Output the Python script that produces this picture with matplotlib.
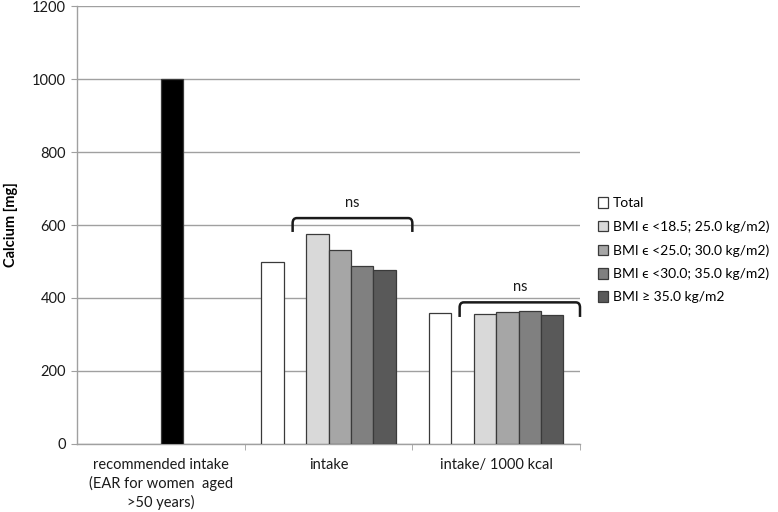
import numpy as np
import matplotlib.pyplot as plt
from matplotlib.path import Path
from matplotlib.patches import PathPatch

plt.rcParams['font.family'] = ['Lato', 'DejaVu Sans']

categories = ['recommended intake\n(EAR for women  aged\n>50 years)', 'intake', 'intake/ 1000 kcal']
ear = [1000, np.nan, np.nan]
series_names = ['Total',
                'BMI ϵ <18.5; 25.0 kg/m2)',
                'BMI ϵ <25.0; 30.0 kg/m2)',
                'BMI ϵ <30.0; 35.0 kg/m2)',
                'BMI ≥ 35.0 kg/m2']
total = [np.nan, 500, 360]
bmi_1 = [np.nan, 575, 357]
bmi_2 = [np.nan, 531, 361]
bmi_3 = [np.nan, 488, 363]
bmi_4 = [np.nan, 476, 352]
series_values = [total, bmi_1, bmi_2, bmi_3, bmi_4]
colors = ['#ffffff', '#d9d9d9', '#a6a6a6', '#808080', '#595959']
slots = [0, 2, 3, 4, 5]

fig = plt.figure(figsize=(7.78, 5.12), dpi=100)
ax = fig.add_axes([0.099, 0.133, 0.6465, 0.855])

x = np.arange(len(categories))
w = 1 / 7.5
edge = '#3a3a3a'

# black EAR bar (slot 3 of the first group)
ax.bar(x + (3 - 2.5) * w, ear, w, color='black', edgecolor=edge, linewidth=0.9, zorder=3)

handles = []
for vals, c, s, name in zip(series_values, colors, slots, series_names):
    b = ax.bar(x + (s - 2.5) * w, vals, w, color=c, edgecolor=edge, linewidth=0.9,
               label=name, zorder=3)
    handles.append(b)

ax.set_xlim(-0.5, 2.5)
ax.set_ylim(0, 1200)
ax.set_yticks(range(0, 1201, 200))
ax.set_xticks(x)
ax.set_xticklabels(categories, fontsize=10.5, color='#1a1a1a', linespacing=1.35)
ax.tick_params(axis='x', length=0, pad=10)
ax.set_xticks([0.5, 1.5, 2.5], minor=True)
ax.tick_params(axis='x', which='minor', length=4, color='#a0a0a0', direction='out')
ax.tick_params(axis='y', length=4, color='#a0a0a0', labelsize=10.5, labelcolor='#1a1a1a', pad=4)
ax.yaxis.grid(True, color='#a0a0a0', linewidth=1, zorder=0)
ax.set_axisbelow(True)
for sp in ['top', 'right']:
    ax.spines[sp].set_visible(False)
for sp in ['left', 'bottom']:
    ax.spines[sp].set_color('#a0a0a0')
    ax.spines[sp].set_linewidth(1)

ax.set_ylabel('Calcium [mg]', fontsize=10.5, fontweight='bold', labelpad=10)


def bracket(x0, x1, ytop, ybot, rx=0.025, ry=14):
    verts = [(x0, ybot), (x0, ytop - ry), (x0, ytop), (x0 + rx, ytop),
             (x1 - rx, ytop), (x1, ytop), (x1, ytop - ry), (x1, ybot)]
    codes = [Path.MOVETO, Path.LINETO, Path.CURVE3, Path.CURVE3,
             Path.LINETO, Path.CURVE3, Path.CURVE3, Path.LINETO]
    ax.add_patch(PathPatch(Path(verts, codes), fill=False, edgecolor='#1a1a1a',
                           linewidth=1.8, zorder=4, clip_on=False))
    ax.text((x0 + x1) / 2, ytop + 22, 'ns', ha='center', va='bottom', fontsize=10.5,
            color='#1a1a1a')


bracket(0.786, 1.5, 619, 581)
bracket(1.782, 2.5, 388, 348)

fig.legend(handles=handles, labels=series_names, loc='center left',
           bbox_to_anchor=(0.768, 0.511), frameon=False, fontsize=10,
           handlelength=0.75, handleheight=0.75, handletextpad=0.35,
           labelspacing=0.8, borderpad=0, borderaxespad=0)

fig.savefig('out.png', dpi=100)
